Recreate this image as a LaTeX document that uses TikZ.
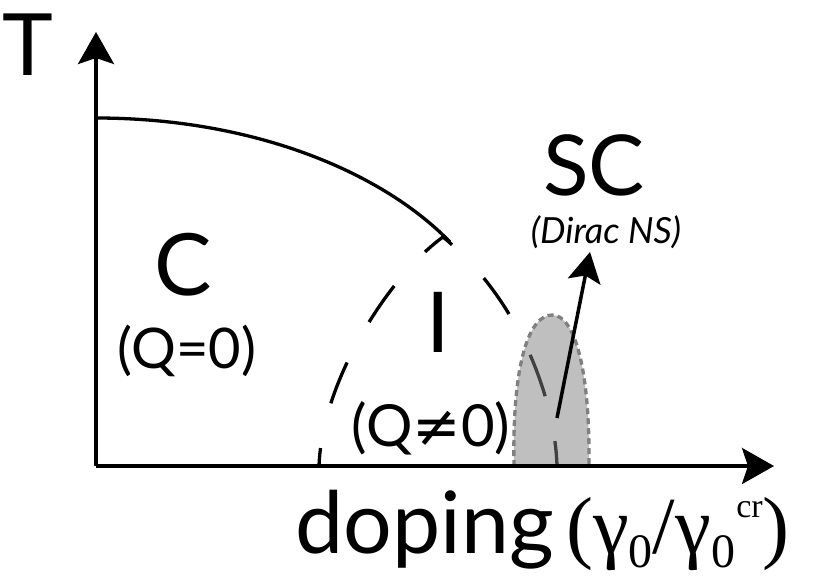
\documentclass[tikz,border=0pt]{standalone}
\usepackage{fontspec}
\setmainfont{Lato}
\newfontfamily\serifpart{Liberation Serif}
\newfontfamily\symfont{DejaVu Sans}
\usetikzlibrary{arrows.meta}
\definecolor{midgray}{RGB}{128,128,128}
\begin{document}
\begin{tikzpicture}[x=1pt,y=-1pt,
  axisline/.style={line width=3.8pt,-{Stealth[length=32pt,width=36pt,inset=6pt]}},
  phaseline/.style={line width=3.3pt},
  domeline/.style={line width=3.3pt,dash pattern=on 44pt off 46pt},
  scfill/.style={fill=midgray,fill opacity=0.5},
  scborder/.style={draw=midgray,line width=3.3pt,dash pattern=on 6pt off 4pt},
  scarrow/.style={line width=3.5pt,-{Stealth[length=30pt,width=33pt,inset=6pt]}},
  lbl/.style={inner sep=0pt,anchor=base}]
\useasboundingbox (0,0) rectangle (832,584);
% coordinates
\coordinate (O) at (96,466);
\coordinate (Ytip) at (96,32);
\coordinate (Xtip) at (774,466);
\coordinate (cS) at (96,118);
\coordinate (cE) at (450,242);
\coordinate (dL) at (319,466);
\coordinate (dTop) at (443,237);
\coordinate (dR) at (557,466);
\coordinate (gL) at (514,466);
\coordinate (gTop) at (552,315);
\coordinate (gR) at (589,466);
\coordinate (aS) at (557,418);
\coordinate (aE) at (590,252);
% solid phase boundary
\draw[phaseline] (cS) .. controls (250,118) and (380,170) .. (cE);
% dashed dome
\draw[domeline,dash phase=26pt] (dL) .. controls (322,380) and (390,275) .. (dTop);
\draw[domeline,dash phase=19pt] (dR) .. controls (555,400) and (520,300) .. (dTop);
% SC region
\fill[scfill] (gL) .. controls (512,360) and (530,315) .. (gTop) .. controls (575,315) and (590,370) .. (gR) -- cycle;
\draw[scborder] (gL) .. controls (512,360) and (530,315) .. (gTop) .. controls (575,315) and (590,370) .. (gR);
% arrow
\draw[scarrow] (aS) -- (aE);
% axes
\draw[axisline] (O) -- (Ytip);
\draw[axisline] (O) -- (Xtip);
% labels
\node[lbl,font=\fontsize{86}{86}\selectfont] (T) at (28,75) {T};
\node[lbl,font=\fontsize{86}{86}\selectfont] (C) at (183,295) {C};
\node[lbl,font=\fontsize{56}{56}\selectfont] (Q0) at (187,368) {(Q=0)};
\node[lbl,font=\fontsize{84}{84}\selectfont] (I) at (438,352) {I};
\node[lbl,font=\fontsize{58}{58}\selectfont] (Qn) at (431,446) {(Q{\symfont ≠}0)};
\node[lbl,font=\fontsize{84}{84}\selectfont] (SC) at (594,195) {SC};
\node[lbl,font=\fontsize{36}{36}\selectfont\itshape] (NS) at (606,243) {(Dirac NS)};
\node[lbl,anchor=base west,font=\fontsize{86}{86}\selectfont] (dop) at (295,553) {doping};
\node[lbl,anchor=base west,font=\serifpart\fontsize{81}{81}\selectfont] (ratio) at (566,553)
  {(γ\raisebox{-14pt}{\fontsize{48}{48}\selectfont 0}/γ\raisebox{-14pt}{\fontsize{48}{48}\selectfont 0}\kern1pt\raisebox{36pt}{\fontsize{34}{34}\selectfont cr})};
\end{tikzpicture}
\end{document}
